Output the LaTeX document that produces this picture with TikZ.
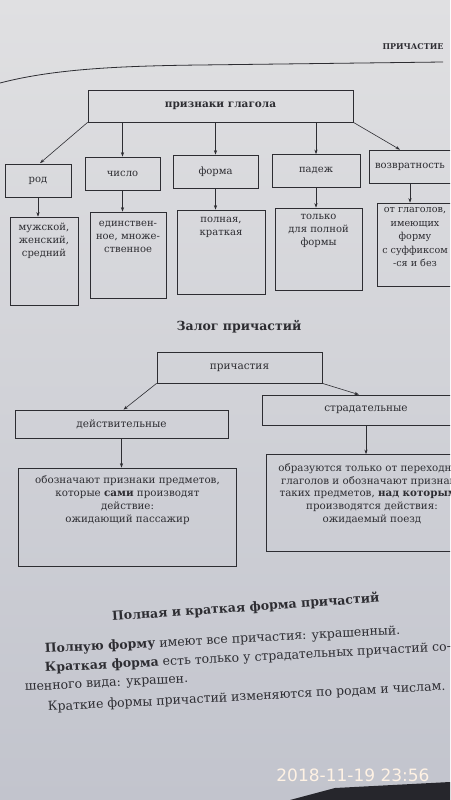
\documentclass[tikz,border=0pt]{standalone}
\usepackage{fontspec}
\setmainfont{DejaVu Serif}
\newfontfamily\stampfont{DejaVu Sans}
\usetikzlibrary{arrows.meta,calc}
\definecolor{ink}{RGB}{45,45,50}
\definecolor{bgtop}{RGB}{224,224,226}
\definecolor{bgbot}{RGB}{194,196,205}
\definecolor{stamp}{RGB}{255,242,228}
\definecolor{shadow}{RGB}{38,38,44}
\begin{document}
\begin{tikzpicture}[x=1pt,y=-1pt,
  box/.style={draw=ink, line width=0.7pt, inner sep=1pt, align=center, text=ink},
  rowbox/.style={box, minimum height=33, font=\fontsize{10}{12}\selectfont},
  tallbox/.style={box},
  boxtxt/.style={anchor=north, inner sep=0pt, align=center, text=ink, font=\fontsize{10}{13}\selectfont},
  bigtxt/.style={anchor=north, inner sep=0pt, align=center, text=ink, font=\fontsize{10.3}{12.8}\selectfont},
  arr/.style={draw=ink, line width=0.6pt, -{Stealth[length=4.5pt,width=3.2pt]}},
  heading/.style={text=ink, inner sep=0pt, font=\bfseries\fontsize{12.5}{14}\selectfont},
  bodyline/.style={anchor=base west, text=ink, inner sep=0pt, rotate=3, font=\fontsize{12.5}{15}\selectfont}
]
\useasboundingbox (0,0) rectangle (450,800);
\clip (0,0) rectangle (450,800);
\shade[top color=bgtop, bottom color=bgbot] (0,0) rectangle (450,800);

% page header
\node[text=ink, inner sep=0pt, font=\bfseries\fontsize{8}{9}\selectfont] (hd) at (413,47) {ПРИЧАСТИЕ};
\draw[ink, line width=0.8pt] (0,83) .. controls (50,70) and (110,66) .. (200,65) -- (443,62);

% verb features
\node[box, minimum width=265, minimum height=32, font=\bfseries\fontsize{10.5}{12}\selectfont] (t0) at (220.5,106) {признаки глагола};

\node[rowbox, minimum width=66] (r1) at (38,181) {род};
\node[rowbox, minimum width=75] (r2) at (122.5,173.5) {число};
\node[rowbox, minimum width=85] (r3) at (215.5,171.5) {форма};
\node[rowbox, minimum width=88] (r4) at (316,171) {падеж};
\node[rowbox, minimum width=82] (r5) at (410,166.5) {возвратность};

\draw[arr] (t0.south west) -- ($(r1.north)+(2,-1)$);
\draw[arr] (t0.south -| r2.north) -- (r2.north);
\draw[arr] (t0.south -| r3.north) -- (r3.north);
\draw[arr] (t0.south -| r4.north) -- (r4.north);
\draw[arr] (t0.south east) -- ($(r5.north)+(-10,0)$);

\node[tallbox, minimum width=68, minimum height=88] (b1) at (44,261) {};
\node[tallbox, minimum width=76, minimum height=86] (b2) at (128,255) {};
\node[tallbox, minimum width=88, minimum height=84] (b3) at (221,252) {};
\node[tallbox, minimum width=87, minimum height=82] (b4) at (318.5,249) {};
\node[tallbox, minimum width=76, minimum height=83] (b5) at (415,244.5) {};

\node[boxtxt] (b1t) at ($(b1.north)+(0,6)$) {мужской,\\женский,\\средний};
\node[boxtxt] (b2t) at ($(b2.north)+(0,9)$) {единствен-\\ное, множе-\\ственное};
\node[boxtxt] (b3t) at ($(b3.north)+(0,7)$) {полная,\\краткая};
\node[boxtxt] (b4t) at ($(b4.north)+(0,6)$) {только\\для полной\\формы};
\node[boxtxt, font=\fontsize{9.6}{13.5}\selectfont] (b5t) at ($(b5.north)+(0,5)$) {от глаголов,\\имеющих\\форму\\с суффиксом\\-ся и без};

\draw[arr] (r1.south) -- (r1.south |- b1.north);
\draw[arr] (r2.south) -- (r2.south |- b2.north);
\draw[arr] (r3.south) -- (r3.south |- b3.north);
\draw[arr] (r4.south) -- (r4.south |- b4.north);
\draw[arr] (r5.south) -- (r5.south |- b5.north);

% voice of participles
\node[heading] (zt) at (239,327) {Залог причастий};
\node[box, minimum width=165, minimum height=31, font=\fontsize{10.5}{12}\selectfont] (p0) at (239.5,367.5) {причастия};
\node[box, minimum width=213, minimum height=28, font=\fontsize{10.5}{12}\selectfont] (d) at (121.5,424) {действительные};
\node[box, minimum width=208, minimum height=30, font=\fontsize{10.5}{12}\selectfont] (s) at (366,410) {страдательные};

\draw[arr] (p0.south west) -- ($(d.north)+(2,0)$);
\draw[arr] (p0.south east) -- ($(s.north)+(-7,0)$);

\node[tallbox, minimum width=218, minimum height=98] (dd) at (127.5,517) {};
\node[tallbox, minimum width=212, minimum height=97] (ss) at (372,503) {};

\draw[arr] (d.south) -- (d.south |- dd.north);
\draw[arr] (s.south) -- (s.south |- ss.north);

\node[bigtxt] (ddt) at ($(dd.north)+(0,8)$) {обозначают признаки предметов,\\которые \textbf{сами} производят\\действие:\\ожидающий пассажир};
\node[bigtxt] (sst) at ($(ss.north)+(0,9)$) {образуются только от переходных\\глаголов и обозначают признаки\\таких предметов, \textbf{над которыми}\\производятся действия:\\ожидаемый поезд};

% full and short form
\node[heading, anchor=west, rotate=4] (h3) at (112,617) {Полная и краткая форма причастий};
\node[bodyline] (l1) at (45,653) {\textbf{Полную форму} имеют все причастия: украшенный.};
\node[bodyline] (l2) at (45,672) {\textbf{Краткая форма} есть только у страдательных причастий со-};
\node[bodyline] (l3) at (25,691) {шенного вида: украшен.};
\node[bodyline] (l4) at (48,711) {Краткие формы причастий изменяются по родам и числам.};

% photo corner and date stamp
\fill[shadow] (290,800) -- (335,788) -- (450,782) -- (450,800) -- cycle;
\node[text=stamp, inner sep=0pt, font=\stampfont\fontsize{17}{17}\selectfont] (ts) at (353,775) {2018-11-19 23:56};
\end{tikzpicture}
\end{document}
